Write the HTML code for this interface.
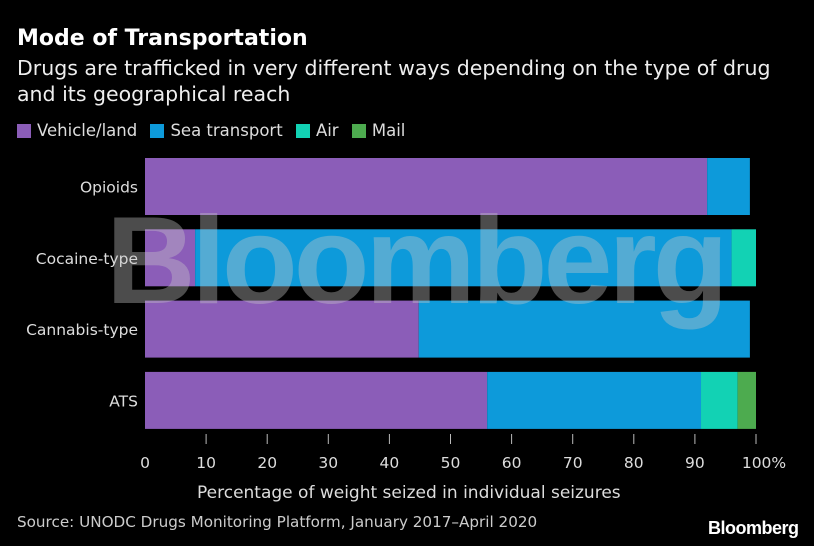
<!DOCTYPE html>
<html><head><meta charset="utf-8">
<style>
body{margin:0;background:#000;}
#c{position:relative;width:814px;height:546px;background:#000;font-family:"DejaVu Sans","Liberation Sans",sans-serif;color:#ddd;overflow:hidden}
.t{position:absolute;white-space:nowrap}
</style></head>
<body>
<div id="c">
<div class="t" style="left:17px;top:26px;font-size:22px;font-weight:bold;color:#fff">Mode of Transportation</div>
<div class="t" style="left:17px;top:55px;font-size:20.5px;line-height:26px;color:#eee">Drugs are trafficked in very different ways depending on the type of drug<br>and its geographical reach</div>
<div style="position:absolute;left:17px;top:121px;font-size:16.5px;color:#ddd">
<span><span style="display:inline-block;width:14px;height:14px;background:#8b5db8;vertical-align:-2px;margin-right:6px"></span>Vehicle/land</span>
<span style="margin-left:8px"><span style="display:inline-block;width:14px;height:14px;background:#0d9ada;vertical-align:-2px;margin-right:6px"></span>Sea transport</span>
<span style="margin-left:8px"><span style="display:inline-block;width:14px;height:14px;background:#12d2b4;vertical-align:-2px;margin-right:6px"></span>Air</span>
<span style="margin-left:8px"><span style="display:inline-block;width:14px;height:14px;background:#4dab4f;vertical-align:-2px;margin-right:6px"></span>Mail</span>
</div>
<svg id="s" width="814" height="546" style="position:absolute;left:0;top:0"></svg>
<div class="t" style="left:197px;top:483px;font-size:17px;color:#ddd">Percentage of weight seized in individual seizures</div>
<div class="t" style="left:17px;top:513px;font-size:15.2px;color:#ccc">Source: UNODC Drugs Monitoring Platform, January 2017–April 2020</div>
<div class="t" style="left:708px;top:518px;font-family:'Liberation Sans',sans-serif;font-size:18px;font-weight:bold;color:#fff;letter-spacing:-0.5px">Bloomberg</div>
<div class="t" style="left:106px;top:190px;font-family:'Liberation Sans',sans-serif;font-size:124px;font-weight:bold;color:rgba(200,200,200,0.38);letter-spacing:-4px">Bloomberg</div>
</div>
<script>
const categories=["Opioids","Cocaine-type","Cannabis-type","ATS"];
const seriesNames=["Vehicle/land","Sea transport","Air","Mail"];
const vehicle=[92,8.2,44.8,56];
const sea=[7,87.8,54.2,35];
const air=[0,4,0,6];
const mail=[0,0,0,3];
const ticks=[0,10,20,30,40,50,60,70,80,90,100];
const colors=["#8b5db8","#0d9ada","#12d2b4","#4dab4f"];
const NS="http://www.w3.org/2000/svg";
const svg=document.getElementById('s');
const x0=145,x1=756,top0=158,band=71.3,bh=57;
const xs=v=>x0+(x1-x0)*v/100;
const ys=i=>top0+i*band;
const series=[vehicle,sea,air,mail];
const FF='DejaVu Sans, Liberation Sans, sans-serif';
categories.forEach((c,i)=>{
  let acc=0;
  series.forEach((arr,k)=>{
    const v=arr[i]; if(v<=0){return;}
    const r=document.createElementNS(NS,'rect');
    r.setAttribute('x',xs(acc));r.setAttribute('y',ys(i));
    r.setAttribute('width',xs(acc+v)-xs(acc));r.setAttribute('height',bh);
    r.setAttribute('fill',colors[k]);
    
    
    svg.appendChild(r);acc+=v;
  });
  const t=document.createElementNS(NS,'text');
  t.setAttribute('x',138);t.setAttribute('y',ys(i)+bh/2+6);
  t.setAttribute('text-anchor','end');t.setAttribute('fill','#ddd');
  t.setAttribute('font-size','15.5');t.setAttribute('font-family',FF);
  t.textContent=c;
  
  
  svg.appendChild(t);
});
ticks.forEach(v=>{
  if(v>0){
  const l=document.createElementNS(NS,'line');
  l.setAttribute('x1',xs(v));l.setAttribute('x2',xs(v));l.setAttribute('y1',434);l.setAttribute('y2',444);
  l.setAttribute('stroke','#bbb');l.setAttribute('stroke-width','1');
  
  
  svg.appendChild(l);
  }
  const t=document.createElementNS(NS,'text');
  t.setAttribute('x',xs(v)+(v===100?8:0));t.setAttribute('y',468);
  t.setAttribute('text-anchor','middle');t.setAttribute('fill','#ddd');
  t.setAttribute('font-size','15.5');t.setAttribute('font-family',FF);
  t.textContent=v===100?'100%':String(v);
  
  
  svg.appendChild(t);
});
</script>
</body></html>
